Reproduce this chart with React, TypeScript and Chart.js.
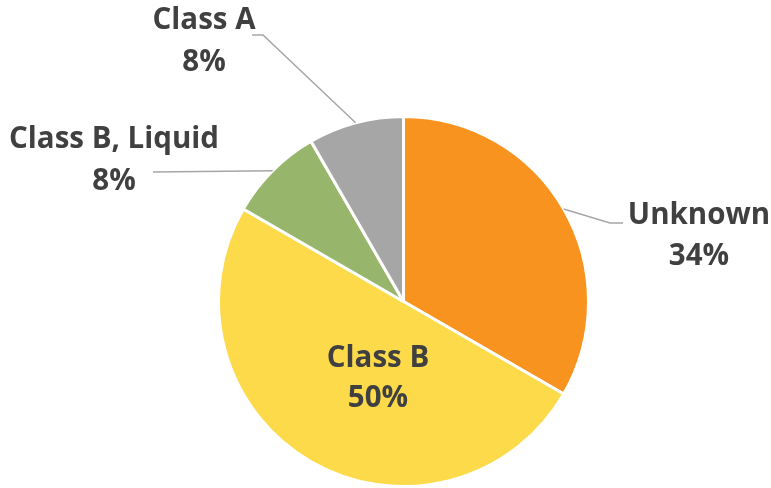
import React, { useEffect, useRef } from "react";
import { Chart, registerables } from "chart.js";

Chart.register(...registerables);

const categories = ["Unknown", "Class B", "Class B, Liquid", "Class A"];
const values = [4, 6, 1, 1];
const percentLabels = ["34%", "50%", "8%", "8%"];
const colors = ["#F7931E", "#FCDA4A", "#97B56B", "#A6A6A6"];

// label layout: text centre x, baselines of two lines, optional leader elbow/end
const labelLayout = [
  { x: 699, y1: 224, y2: 265, elbow: [610, 223], end: [623, 223] },
  { x: 378, y1: 367, y2: 407, elbow: null, end: null },
  { x: 114, y1: 148, y2: 190, elbow: null, end: [153, 172] },
  { x: 204, y1: 29, y2: 71, elbow: [263, 35], end: [252, 35] },
];

const labelPlugin = {
  id: "pieLabels",
  afterDatasetsDraw(chart: any) {
    const ctx = chart.ctx;
    const meta = chart.getDatasetMeta(0);
    ctx.save();
    meta.data.forEach((arc: any, i: number) => {
      const L = labelLayout[i];
      const mid = (arc.startAngle + arc.endAngle) / 2;
      if (L.end) {
        const sx = arc.x + Math.cos(mid) * arc.outerRadius;
        const sy = arc.y + Math.sin(mid) * arc.outerRadius;
        ctx.strokeStyle = "#A6A6A6";
        ctx.lineWidth = 1.5;
        ctx.beginPath();
        ctx.moveTo(sx, sy);
        if (L.elbow) ctx.lineTo(L.elbow[0], L.elbow[1]);
        ctx.lineTo(L.end[0], L.end[1]);
        ctx.stroke();
      }
      ctx.fillStyle = "#404040";
      ctx.font = "bold 29.5px 'Open Sans'";
      ctx.textAlign = "center";
      ctx.textBaseline = "alphabetic";
      ctx.fillText(categories[i], L.x, L.y1);
      ctx.fillText(percentLabels[i], L.x, L.y2);
    });
    ctx.restore();
  },
};

export default function App() {
  const ref = useRef<HTMLCanvasElement>(null);
  useEffect(() => {
    const chart = new Chart(ref.current!, {
      type: "pie",
      data: {
        labels: categories,
        datasets: [
          {
            data: values,
            backgroundColor: colors,
            borderColor: "#FFFFFF",
            borderWidth: 3,
          },
        ],
      },
      options: {
        animation: false,
        responsive: false,
        layout: { padding: { left: 217, right: 181, top: 115, bottom: 0 } },
        plugins: {
          legend: { display: false },
          tooltip: { enabled: false },
        },
      },
      plugins: [labelPlugin],
    });
    return () => chart.destroy();
  }, []);
  return (
    <div style={{ position: "fixed", left: 0, top: 0, width: 771, height: 488, background: "#fff" }}>
      <canvas ref={ref} width={771} height={488} style={{ width: 771, height: 488 }} />
    </div>
  );
}
